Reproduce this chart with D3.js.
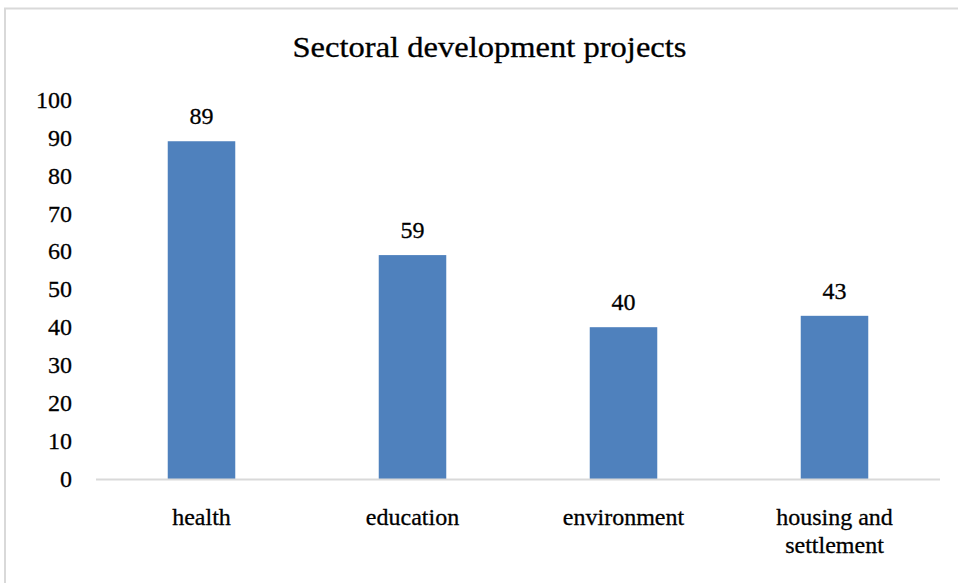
<!DOCTYPE html>
<html>
<head>
<meta charset="utf-8">
<script src="https://cdn.jsdelivr.net/npm/d3@7"></script>
<style>
  html, body { margin: 0; padding: 0; background: #fff; }
  svg { display: block; }
  text { font-family: "Liberation Serif", "Times New Roman", serif; fill: #000; stroke: #000; stroke-width: 0.3px; }
</style>
</head>
<body>
<svg id="chart" width="958" height="583"></svg>
<script>
// Sectoral development projects: number of projects per sector
const categories = ["health", "education", "environment", "housing and settlement"];
const categoryLines = [["health"], ["education"], ["environment"], ["housing and", "settlement"]];
const values = [89, 59, 40, 43];
const yTicks = [0, 10, 20, 30, 40, 50, 60, 70, 80, 90, 100];
const title = "Sectoral development projects";

const svg = d3.select("#chart");
const W = 958, H = 583;
const plot = { left: 96, right: 940, top: 99.5, bottom: 479 };

// chart-area frame
svg.append("rect")
  .attr("x", 5).attr("y", 8.5)
  .attr("width", W + 10).attr("height", H)
  .attr("fill", "#fff")
  .attr("stroke", "#d9d9d9")
  .attr("stroke-width", 2);

const x = d3.scaleBand()
  .domain(categories)
  .range([plot.left, plot.right])
  .paddingInner(0.68)
  .paddingOuter(0.34);

const y = d3.scaleLinear()
  .domain([0, 100])
  .range([plot.bottom, plot.top]);

// title
svg.append("text")
  .attr("x", 489.5).attr("y", 57)
  .attr("text-anchor", "middle")
  .attr("font-size", 29)
  .attr("textLength", 394)
  .attr("lengthAdjust", "spacingAndGlyphs")
  .text(title);

// y axis: labels only, no line or ticks
const yAxis = svg.append("g")
  .attr("transform", `translate(${plot.left},0)`)
  .call(d3.axisLeft(y).tickValues(yTicks).tickSize(0).tickPadding(24));
yAxis.select(".domain").remove();
yAxis.selectAll("text")
  .attr("font-family", "Liberation Serif, Times New Roman, serif")
  .attr("font-size", 24)
  .attr("fill", "#000")
  .attr("dy", "0.32em");

// bars
svg.append("g")
  .selectAll("rect")
  .data(values)
  .join("rect")
  .attr("x", (d, i) => x(categories[i]))
  .attr("y", d => y(d))
  .attr("width", x.bandwidth())
  .attr("height", d => y(0) - y(d))
  .attr("fill", "#4f81bd");

// category axis baseline
svg.append("line")
  .attr("x1", plot.left).attr("x2", plot.right)
  .attr("y1", y(0) + 0.5).attr("y2", y(0) + 0.5)
  .attr("stroke", "#d9d9d9")
  .attr("stroke-width", 2);

// value labels
svg.append("g")
  .selectAll("text")
  .data(values)
  .join("text")
  .attr("x", (d, i) => x(categories[i]) + x.bandwidth() / 2)
  .attr("y", d => y(d) - 17)
  .attr("text-anchor", "middle")
  .attr("font-size", 24)
  .text(d => d);

// category labels (wrapped)
const cat = svg.append("g")
  .selectAll("text")
  .data(categoryLines)
  .join("text")
  .attr("x", (d, i) => x(categories[i]) + x.bandwidth() / 2)
  .attr("y", 525)
  .attr("text-anchor", "middle")
  .attr("font-size", 24);
cat.selectAll("tspan")
  .data(d => d)
  .join("tspan")
  .attr("x", function () { return this.parentNode.getAttribute("x"); })
  .attr("dy", (d, i) => i === 0 ? 0 : 28)
  .text(d => d);
</script>
</body>
</html>
